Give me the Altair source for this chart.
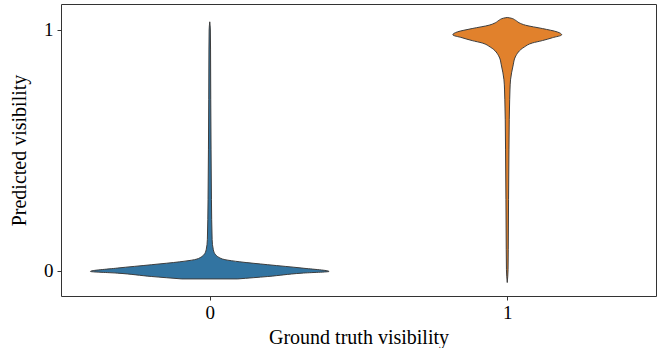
import altair as alt
import pandas as pd

# Categories (ground truth) and colours
groups = ["0", "1"]
centers = [0, 1]
colors = ["#3274a1", "#e1812c"]

# Violin for ground truth 0: predicted-visibility levels and half-widths (x units)
y0_vals = [-0.034, -0.024, -0.010, -0.003, 0.011, 0.025, 0.037, 0.046, 0.056, 0.066,
           0.087, 0.129, 0.295, 0.502, 0.710, 0.917, 1.000, 1.034]
w0_vals = [0.094, 0.195, 0.310, 0.401, 0.310, 0.195, 0.101, 0.051, 0.030, 0.020,
           0.012, 0.008, 0.0057, 0.0044, 0.0034, 0.0027, 0.0020, 0.0]

# Violin for ground truth 1
y1_vals = [-0.049, 0.004, 0.087, 0.295, 0.502, 0.627, 0.710, 0.751, 0.793, 0.822,
           0.855, 0.888, 0.929, 0.946, 0.956, 0.968, 0.980, 0.992, 1.006, 1.020,
           1.030, 1.041, 1.049, 1.052]
w1_vals = [0.0, 0.0027, 0.0034, 0.0044, 0.0057, 0.0067, 0.0081, 0.0091, 0.011, 0.0145,
           0.020, 0.027, 0.057, 0.084, 0.118, 0.152, 0.183, 0.168, 0.118, 0.061,
           0.040, 0.027, 0.013, 0.0]

rows = []
for g, c, ys, ws in [(groups[0], centers[0], y0_vals, w0_vals),
                     (groups[1], centers[1], y1_vals, w1_vals)]:
    for y, w in zip(ys, ws):
        rows.append({"group": g, "y": y, "lo": c - w, "hi": c + w})
df = pd.DataFrame(rows)

FONT = "Liberation Serif"

chart = alt.Chart(df).mark_area(
    orient="horizontal", interpolate="monotone",
    stroke="#3d3d3d", strokeWidth=1, opacity=1
).encode(
    y=alt.Y("y:Q", scale=alt.Scale(domain=[-0.105, 1.108], nice=False, zero=False),
            axis=alt.Axis(values=[0, 1], format="d", title="Predicted visibility",
                          grid=False, domain=False, tickSize=4, tickColor="#333333",
                          labelPadding=4, titlePadding=14)),
    x=alt.X("lo:Q", scale=alt.Scale(domain=[-0.5, 1.5], nice=False, zero=False),
            axis=alt.Axis(values=[0, 1], format="d", title="Ground truth visibility",
                          grid=False, domain=False, tickSize=4, tickColor="#333333",
                          labelPadding=3, titlePadding=5)),
    x2="hi:Q",
    color=alt.Color("group:N", scale=alt.Scale(domain=groups, range=colors), legend=None),
    detail="group:N",
).properties(
    width=595, height=292,
    background="white",
    autosize=alt.AutoSizeParams(type="none"),
    padding={"left": 61, "top": 4, "right": 8, "bottom": 52},
).configure_view(
    stroke="#333333", strokeWidth=1
).configure_axis(
    labelFont=FONT, titleFont=FONT, labelFontSize=19, titleFontSize=20,
    labelColor="#000000", titleColor="#000000", titleFontWeight="normal"
)

chart.save("out.html", embed_options={"renderer": "svg", "actions": False})
